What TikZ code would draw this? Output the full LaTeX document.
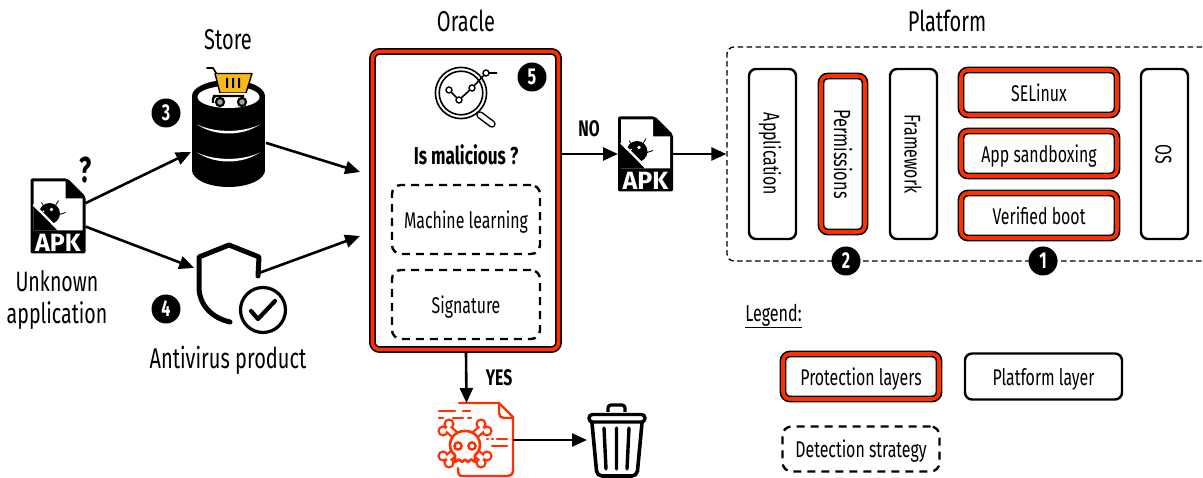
\documentclass[tikz,border=0pt]{standalone}
\usepackage{fontspec}
\setmainfont[FakeStretch=0.7]{Fira Sans}
\newfontfamily\apkfont{Fira Sans}
\usetikzlibrary{arrows.meta}
\definecolor{prot}{HTML}{FF2F00}
\definecolor{cartyel}{HTML}{F6B81A}
\definecolor{cartgrey}{HTML}{8FA6AD}
\tikzset{
 boxtext/.style={font=\fontsize{22.7}{24}\selectfont,text height=17.6pt,text depth=0pt},
 protbox/.style={boxtext,draw=black,line width=1.6pt,double=prot,double distance=3.6pt,fill=white,rounded corners=7pt,inner sep=0pt,outer sep=3.4pt},
 platbox/.style={boxtext,draw=black,line width=2.4pt,fill=white,rounded corners=7pt,inner sep=0pt},
 detbox/.style={boxtext,draw=black,line width=2.4pt,dash pattern=on 8pt off 6pt,rounded corners=9pt,inner sep=0pt},
 iconbox/.style={inner sep=0pt,outer sep=0pt},
 badge/.style={circle,fill=black,text=white,inner sep=0pt,minimum size=29pt,font=\fontsize{23}{24}\selectfont\bfseries},
 title/.style={inner sep=0pt,font=\fontsize{28.6}{30}\selectfont},
 flagtext/.style={inner sep=0pt,font=\fontsize{22.5}{24}\selectfont\bfseries},
 conn/.style={line width=2.6pt,-{Triangle[length=15pt,width=13pt]}},
}
\newcommand{\apkicon}[3]{%
 \begin{scope}[shift={(#1,#2)}]
  \fill[black,rounded corners=2pt] (0,0) -- (37,0) -- (55,18) -- (55,75) -- (0,75) -- cycle;
  \fill[white] (3,3) -- (35,3) -- (35,20) -- (52,20) -- (52,52) -- (3,52) -- cycle;
  \fill[black] (3,28) -- (3,52) -- (27,52) -- cycle;
  \fill[black] (19,35) circle (10.5);
  \draw[black,line width=.8pt] (25,27) -- (28,22) (29,36) -- (35,34) (13,27) -- (11,24);
  \draw[white,line width=2.4pt] (3,26) -- (28,51);
  \fill[white] (21,31) circle (1.8) (13,33) circle (1);
  \node[inner sep=0pt,text=white,font=\fontsize{25}{26}\selectfont\apkfont\bfseries] (#3) at (27.5,64) {APK};
 \end{scope}}
\begin{document}
\begin{tikzpicture}[x=1pt,y=-1pt]
\useasboundingbox (0,0) rectangle (1203,478);
% anchor boxes for the icons
\node[iconbox,minimum width=55pt,minimum height=75pt] (apkA) at (58,216) {};
\node[iconbox,minimum width=75pt,minimum height=107pt] (db) at (228.5,133.5) {};
\node[iconbox,minimum width=91pt,minimum height=89pt] (shield) at (242.5,289.5) {};
\node[iconbox,minimum width=55pt,minimum height=75pt] (apkB) at (645.5,154) {};
\node[iconbox,minimum width=76pt,minimum height=74pt] (mal) at (475,440) {};
\node[iconbox,minimum width=59pt,minimum height=75pt] (trash) at (616.5,440) {};

% platform container
\node[draw=black,line width=1.3pt,dash pattern=on 5.5pt off 3.5pt,rounded corners=7pt,inner sep=0pt,minimum width=500pt,minimum height=214pt] (platform) at (977,154) {};

% titles
\node[title] (tStore) at (228,40) {Store};
\node[title] (tOracle) at (466,21) {Oracle};
\node[title] (tPlatform) at (947,21) {Platform};
\node[title,align=center,font=\fontsize{28}{32}\selectfont] (tUnknown) at (57,300) {Unknown\\application};
\node[title] (tAv) at (228,360) {Antivirus product};
\node[inner sep=0pt,font=\fontsize{36}{38}\selectfont\bfseries] (tQ) at (86,170) {?};

% oracle
\node[protbox,minimum width=186pt,minimum height=298pt] (oracle) at (465.5,200.5) {};
\node[detbox,minimum width=148pt,minimum height=69pt] (ml) at (466,219.5) {Machine learning};
\node[detbox,minimum width=148pt,minimum height=69pt] (sig) at (466,304.5) {Signature};
\node[flagtext,font=\fontsize{24.5}{26}\selectfont\bfseries] (tMal) at (466,155) {Is malicious ?};
% magnifier
\draw[black,line width=7.5pt,line cap=round] (480,115) -- (492,124);
\draw[white,line width=4.5pt,line cap=round] (480,115) -- (492,124);
\fill[white] (461,93) circle (26);
\draw[black,line width=1.6pt] (461,93) circle (25.6);
\draw[black,line width=1.6pt] (461,93) circle (21.8);
\draw[black,line width=1.6pt] (449,90) -- (459,100) -- (472,88) -- (486,73) (489,73) -- (497,73);
\foreach \px/\py in {449/90,459/100,472/88,486/73}{\draw[black,line width=1.4pt,fill=white] (\px,\py) circle (3);}

% store icon
\fill[black] (192,96) rectangle (265,172);
\fill[black] (228.5,96) ellipse [x radius=36.5,y radius=16];
\fill[black] (228.5,170) ellipse [x radius=36.5,y radius=17];
\fill[white] (228.5,97) ellipse [x radius=31,y radius=11];
\fill[white] (197,124.5) .. controls (215,133) and (242,133) .. (260,124.5) .. controls (242,136.5) and (215,136.5) .. (197,124.5) -- cycle;
\fill[white] (197,152.5) .. controls (215,161) and (242,161) .. (260,152.5) .. controls (242,164.5) and (215,164.5) .. (197,152.5) -- cycle;
\draw[black,line width=1.6pt,line cap=round] (207,68) -- (213,68) -- (218,76);
\draw[black,line width=1.4pt,fill=cartyel,line join=round] (215,73.5) -- (252,73.5) -- (246,93) -- (220,93) -- cycle;
\fill[black] (226,78) rectangle (228,88) (232,78) rectangle (234,88) (238,78) rectangle (240,88);
\fill[white] (217,93) rectangle (247,102);
\draw[black,line width=2.4pt,rounded corners=3pt] (220,96) -- (213,96) -- (213,103) (213,96) -- (244,96);
\fill[black] (220,102) circle (5.2) (242,102) circle (5.2);
\fill[cartgrey] (220,102) circle (2.8) (242,102) circle (2.8);

% shield icon
\draw[black,line width=5pt,line cap=round,line join=round] (230,322) .. controls (212,318) and (199,305) .. (199,287) -- (199,257) -- (229,245) -- (259,257) -- (258,276);
\draw[black,line width=3.2pt] (263,310) circle (22.5);
\draw[black,line width=4.2pt,line cap=round,line join=round] (251,311) -- (258,319) -- (275,301);

% malware icon
\begin{scope}[prot,line width=2.4pt,line cap=round,line join=round]
 \draw (459,403) -- (499,403) -- (513,417) -- (513,470) .. controls (513,474) and (511,476) .. (508,476) -- (462,476) .. controls (459,476) and (458,474) .. (458,468);
 \draw (499,403) -- (499,413) .. controls (499,416) and (501,418) .. (504,418) -- (513,418);
 \draw (439,411) -- (455,411) (463,411) -- (470,411);
 \draw (439,418) -- (443,418) (453,418) -- (463,418) (468,418) -- (471,418);
 \draw (487,439) -- (488,439) (492,439) -- (493,439) (497,439) -- (507,439);
 \draw (492,446) -- (507,446);
\end{scope}
% bones
\fill[prot] (443,431) circle (5.6) (449,424) circle (5.6) (487,431) circle (5.6) (481,424) circle (5.6) (443,456) circle (5.6) (449,463) circle (5.6) (487,456) circle (5.6) (481,463) circle (5.6);
\draw[prot,line width=9pt] (447,428) -- (483,459) (483,428) -- (447,459);
\fill[white] (443,431) circle (3.2) (449,424) circle (3.2) (487,431) circle (3.2) (481,424) circle (3.2) (443,456) circle (3.2) (449,463) circle (3.2) (487,456) circle (3.2) (481,463) circle (3.2);
\draw[white,line width=4.5pt] (447,428) -- (483,459) (483,428) -- (447,459);
% skull
\draw[prot,line width=2.6pt,fill=white,line join=round] (455,455) .. controls (446,449) and (449,431) .. (465,431) .. controls (481,431) and (484,449) .. (475,455) -- (475,462) -- (471,459.5) -- (468,462) -- (465,459.5) -- (462,462) -- (459,459.5) -- (455,462) -- cycle;
\draw[prot,line width=2.4pt] (458,446) circle (3.6) (472,446) circle (3.6);

% trash icon
\draw[black,line width=3.2pt,rounded corners=3pt] (608,412) -- (608,405) -- (625,405) -- (625,412);
\draw[black,line width=3.4pt,rounded corners=3.5pt,fill=white] (589,414.5) rectangle (645,422);
\draw[black,line width=3.6pt,rounded corners=5pt] (592,423) -- (597,476) -- (637,476) -- (642,423);
\draw[black,line width=3.4pt,line cap=round] (604,428) -- (606,469) (616.5,428) -- (616.5,469) (629,428) -- (627,469);

% APK icons
\apkicon{30.5}{178.5}{apkAlab}
\apkicon{618}{116.5}{apkBlab}

% platform layers
\node[platbox,rotate=-90,minimum width=170pt,minimum height=47pt] (application) at (772.5,154) {Application};
\node[protbox,rotate=-90,minimum width=156pt,minimum height=44pt,font=\fontsize{23.4}{26}\selectfont] (permissions) at (843,154) {Permissions};
\node[platbox,rotate=-90,minimum width=170pt,minimum height=47pt] (framework) at (913.5,154) {Framework};
\node[protbox,minimum width=156pt,minimum height=45pt] (selinux) at (1039,92.5) {SELinux};
\node[protbox,minimum width=156pt,minimum height=45pt] (sandbox) at (1039,153.5) {App sandboxing};
\node[protbox,minimum width=156pt,minimum height=45pt] (vboot) at (1039,215.5) {Verified boot};
\node[platbox,rotate=-90,minimum width=170pt,minimum height=47pt] (os) at (1164.5,154) {OS};

% badges
\node[badge] (b1) at (1043,261) {1};
\node[badge] (b2) at (846,261) {2};
\node[badge] (b3) at (166,113) {3};
\node[badge] (b4) at (166,309) {4};
\node[badge] (b5) at (532,77) {5};

% legend
\node[inner sep=0pt,font=\fontsize{23}{24}\selectfont] (tLegend) at (773.5,316) {\underline{Legend:}};
\node[protbox,minimum width=156pt,minimum height=45pt] (lprot) at (861,376.5) {Protection layers};
\node[platbox,minimum width=157pt,minimum height=46pt] (lplat) at (1043.5,376.5) {Platform layer};
\node[detbox,minimum width=157pt,minimum height=45pt] (ldet) at (861,449) {Detection strategy};

% connectors
\draw[conn] (apkA.25) -- ([yshift=-18.5pt]db.west);
\draw[conn,shorten >=3pt] (apkA.-21) -- ([yshift=20.5pt]shield.west);
\draw[conn,shorten >=9.4pt] (db.-14) -- ([yshift=25.7pt]oracle.west);
\draw[conn,shorten >=9.6pt] ([xshift=16.5pt,yshift=16.5pt]shield.center) -- ([yshift=-32.2pt]oracle.west);
\draw[conn] (oracle.east |- apkB.west) -- (apkB.west);
\draw[conn] (apkB.east) -- (platform.west);
\draw[conn] ([xshift=0.5pt]oracle.south) -- ([xshift=-8.5pt]mal.north);
\draw[conn] (mal.east) -- (trash.west);
\node[flagtext] (tNo) at (589,129) {NO};
\node[flagtext] (tYes) at (499,378) {YES};
\end{tikzpicture}
\end{document}
